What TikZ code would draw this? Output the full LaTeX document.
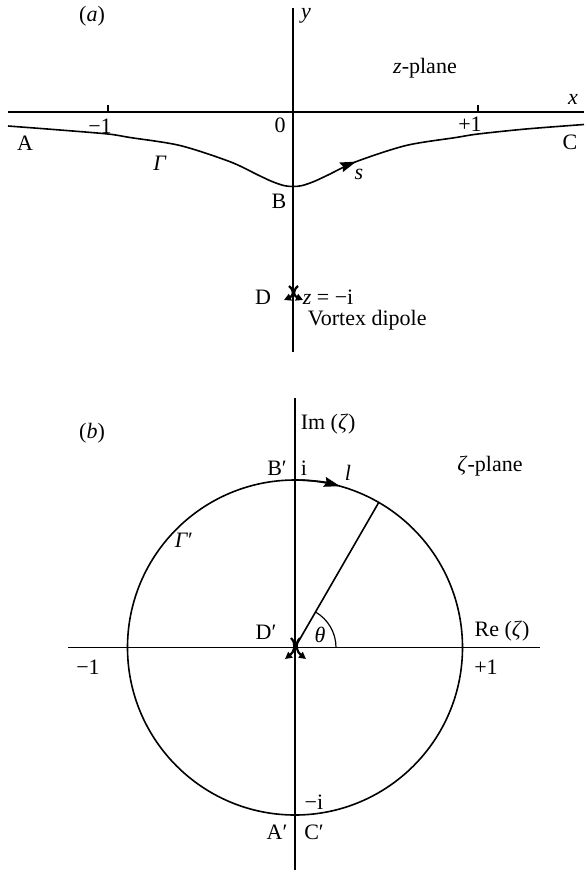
\documentclass[tikz,border=0pt]{standalone}
\usepackage{fontspec}
\setmainfont{Liberation Serif}
\usetikzlibrary{arrows.meta,decorations.markings}
\begin{document}
\begin{tikzpicture}[x=1pt,y=-1pt,line width=1.6pt,
  lbl/.style={font=\fontsize{22}{26}\selectfont,inner sep=0pt},
  tipc/.style={-{Stealth[length=16pt,width=10pt,inset=2pt]}},
  vort/.style={line width=2.2pt,-{Stealth[length=7pt,width=7pt,inset=0pt]}}]
\useasboundingbox (0,0) rectangle (584,870);
% ---------- (a) z-plane ----------
\coordinate (xl) at (8,112);
\coordinate (xr) at (584,112);
\coordinate (yt) at (293,8);
\coordinate (yb) at (293,352);
\draw (xl) -- (xr);
\draw (yt) -- (yb);
\draw (108,112) -- (108,105);
\draw (478,112) -- (478,105);
\draw[postaction={decorate},decoration={markings,
  mark=at position 0.61 with {\arrow{Stealth[length=16pt,width=10pt,inset=2pt]}}}]
  plot[smooth,tension=0.5] coordinates {(8,126) (60,130) (108,134) (130,137.5) (180,145.5)
  (230,161.7) (258,175) (272,181.5) (284,185.6) (293,186.5) (302,185.6) (314,181.5) (328,175) (356,161.7)
  (406,145.5) (456,137.5) (478,134) (526,129) (584,124.5)};
\node[lbl] (la) at (92,16) {(\textit{a})};
\node[lbl] (ly) at (306,16) {\textit{y}};
\node[lbl] (lzp) at (425,68) {\textit{z}-plane};
\node[lbl] (lx) at (573,99) {\textit{x}};
\node[lbl] (lm1) at (100,126) {−1};
\node[lbl] (l0) at (280,125) {0};
\node[lbl] (lp1) at (470,124) {+1};
\node[lbl] (lA) at (25,143) {A};
\node[lbl] (lB) at (279,201) {B};
\node[lbl] (lC) at (570,142) {C};
\node[lbl] (lG) at (160,163) {\textit{Γ}};
\node[lbl] (ls) at (359,174) {\textit{s}};
\node[lbl] (lD) at (263,297) {D};
\node[lbl,anchor=west] (lzi) at (302,297) {\textit{z} = −i};
\node[lbl,anchor=west] (lvd) at (307,320) {Vortex dipole};
\draw[vort] (289,286) .. controls (295,291) and (293,296) .. (284,300);
\draw[vort] (298,286) .. controls (292,291) and (294,296) .. (303,300);
% ---------- (b) zeta-plane ----------
\coordinate (O) at (295,647.5);
\coordinate (hl) at (68,647.5);
\coordinate (hr) at (540,647.5);
\coordinate (vt) at (295,398);
\coordinate (vb) at (295,870);
\draw (hl) -- (hr);
\draw (vt) -- (vb);
\draw (O) circle[radius=167.5];
\draw[tipc] (O) ++(-90:167.5) arc[start angle=-90,end angle=-74.4,radius=167.5];
\draw (O) -- ++(-60:167.5);
\draw[line width=1.2pt] (O) ++(41,0) arc[start angle=0,end angle=-60,radius=41];
\draw[vort] (291,638) .. controls (297,644) and (294,652) .. (285,659);
\draw[vort] (300,638) .. controls (294,644) and (297,652) .. (306,659);
\node[lbl] (lb) at (92,433) {(\textit{b})};
\node[lbl,anchor=west] (lim) at (300,424) {Im (\textit{ζ})};
\node[lbl] (lBp) at (277,468) {B′};
\node[lbl] (li) at (304,468) {i};
\node[lbl] (ll) at (348,473) {\textit{l}};
\node[lbl] (lzeta) at (490,466) {\textit{ζ}-plane};
\node[lbl] (lGp) at (184,540) {\textit{Γ}′};
\node[lbl] (lDp) at (266,632) {D′};
\node[lbl] (lth) at (320,635) {\textit{θ}};
\node[lbl] (lre) at (502,631) {Re (\textit{ζ})};
\node[lbl] (lbm1) at (88,667) {−1};
\node[lbl] (lbp1) at (486,667) {+1};
\node[lbl] (lmi) at (314,802) {−i};
\node[lbl] (lAp) at (277,832) {A′};
\node[lbl] (lCp) at (314,832) {C′};
\end{tikzpicture}
\end{document}
